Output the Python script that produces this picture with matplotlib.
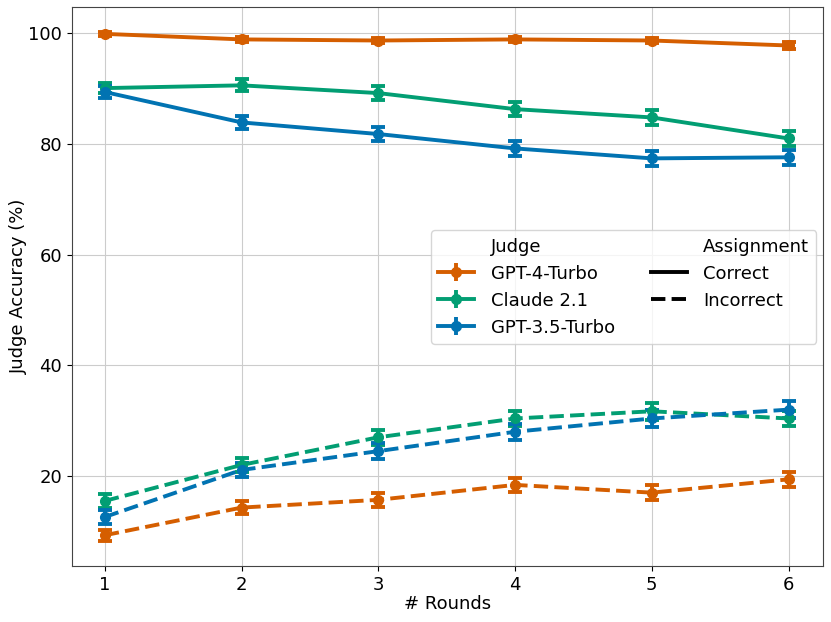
import matplotlib.pyplot as plt
from matplotlib.lines import Line2D
import numpy as np

rounds = [1, 2, 3, 4, 5, 6]
judges = ["GPT-4-Turbo", "Claude 2.1", "GPT-3.5-Turbo"]
colors = {"GPT-4-Turbo": "#d55e00", "Claude 2.1": "#029e73", "GPT-3.5-Turbo": "#0173b2"}

# accuracy when assignment is correct
correct = {
    "GPT-4-Turbo": [99.9, 98.9, 98.7, 98.9, 98.7, 97.8],
    "Claude 2.1": [90.1, 90.6, 89.2, 86.3, 84.8, 81.0],
    "GPT-3.5-Turbo": [89.4, 83.9, 81.8, 79.2, 77.4, 77.6],
}
correct_err = {
    "GPT-4-Turbo": [0.3, 0.5, 0.5, 0.5, 0.5, 0.7],
    "Claude 2.1": [0.9, 1.1, 1.2, 1.3, 1.3, 1.4],
    "GPT-3.5-Turbo": [1.0, 1.2, 1.3, 1.4, 1.4, 1.4],
}
# accuracy when assignment is incorrect
incorrect = {
    "GPT-4-Turbo": [9.3, 14.3, 15.7, 18.4, 17.0, 19.4],
    "Claude 2.1": [15.5, 22.0, 27.0, 30.4, 31.7, 30.4],
    "GPT-3.5-Turbo": [12.6, 21.1, 24.5, 28.0, 30.4, 32.0],
}
incorrect_err = {
    "GPT-4-Turbo": [1.0, 1.2, 1.3, 1.3, 1.3, 1.4],
    "Claude 2.1": [1.2, 1.3, 1.4, 1.4, 1.5, 1.4],
    "GPT-3.5-Turbo": [1.2, 1.3, 1.4, 1.4, 1.5, 1.6],
}

plt.rcParams['font.size'] = 13
fig = plt.figure(figsize=(8.31, 6.22), dpi=100)
ax = fig.add_axes([0.0866, 0.090, 0.9034, 0.8987])

for j in judges:
    c = colors[j]
    ax.errorbar(rounds, correct[j], yerr=correct_err[j], color=c, lw=2.8, marker='o', ms=7,
                capsize=5, capthick=2.8, elinewidth=2.8, ls='-')
    ax.errorbar(rounds, incorrect[j], yerr=incorrect_err[j], color=c, lw=2.8, marker='o', ms=7,
                capsize=5, capthick=2.8, elinewidth=2.8, ls='--')

ax.set_xlabel("# Rounds", labelpad=1)
ax.set_ylabel("Judge Accuracy (%)", labelpad=0)
ax.set_xticks(rounds)
ax.set_yticks([20, 40, 60, 80, 100])
ax.set_xlim(0.76, 6.25)
ax.set_ylim(3.74, 104.75)
ax.grid(True, color='#cccccc', lw=0.8)
ax.set_axisbelow(True)
for s in ax.spines.values():
    s.set_color('#444444')

blank = Line2D([], [], ls='none')
handles = [blank]
labels = ["Judge"]
for j in judges:
    h = ax.errorbar([], [], yerr=[], color=colors[j], lw=2.8, marker='o', ms=7,
                    capsize=5, capthick=2.8, elinewidth=2.8)
    handles.append(h)
    labels.append(j)
handles += [blank, Line2D([], [], color='black', lw=2.8, ls='-'),
            Line2D([], [], color='black', lw=2.8, ls='--'), blank]
labels += ["Assignment", "Correct", "Incorrect", ""]
ax.legend(handles, labels, ncol=2, loc='center', bbox_to_anchor=(0.735, 0.499),
          handlelength=2.0, handletextpad=0.9, columnspacing=2.0, framealpha=0.8)

fig.savefig("out.png")
